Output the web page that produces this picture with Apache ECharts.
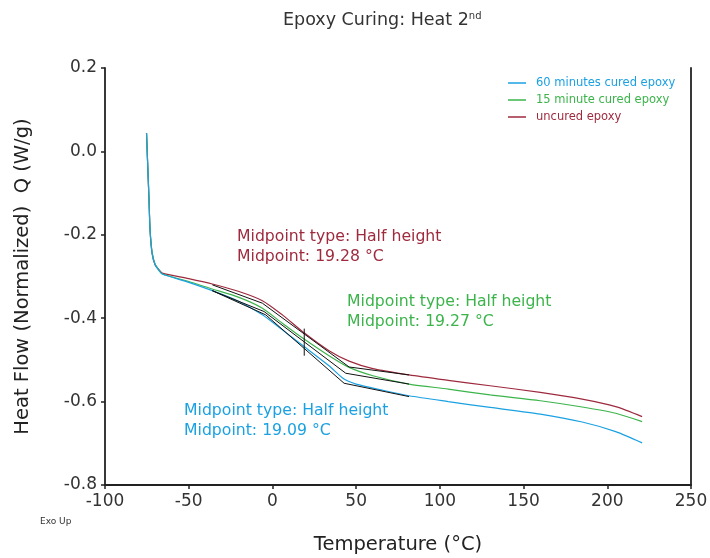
<!DOCTYPE html>
<html>
<head>
<meta charset="utf-8">
<script src="https://cdn.jsdelivr.net/npm/echarts@6/dist/echarts.min.js"></script>
<style>
  html, body { margin: 0; padding: 0; background: #fff; }
  #chart { width: 710px; height: 558px; }
</style>
</head>
<body>
<div id="chart"></div>
<script>
// 曲线数据 (Temperature °C / Heat Flow W/g)
var uncuredT = [-75.2, -74.6, -73.7, -73.1, -71.9, -70.1, -67.7, -65.8, -50, -35.9, -20, -6.0, 5.9, 18.9, 33.8, 45.8, 60, 81.6, 105, 130, 160, 185, 205, 220.8];
var uncuredQ = [0.044, -0.021, -0.117, -0.188, -0.244, -0.272, -0.284, -0.292, -0.305, -0.318, -0.336, -0.358, -0.392, -0.435, -0.478, -0.503, -0.521, -0.536, -0.549, -0.562, -0.578, -0.594, -0.612, -0.636];

var min15T = [-75.2, -74.6, -73.7, -73.1, -71.9, -70.1, -67.7, -65.8, -50, -35.9, -20, -6.0, 5.9, 18.9, 33.8, 45.8, 60, 81.6, 105, 130, 160, 185, 205, 220.8];
var min15Q = [0.044, -0.021, -0.117, -0.185, -0.240, -0.270, -0.285, -0.294, -0.312, -0.330, -0.350, -0.376, -0.412, -0.450, -0.490, -0.518, -0.538, -0.558, -0.570, -0.584, -0.598, -0.613, -0.628, -0.648];

var min60T = [-75.2, -74.6, -73.7, -73.1, -71.9, -70.1, -67.7, -65.8, -50, -35.9, -20, -6.0, 5.9, 18.9, 33.8, 42.8, 50, 65, 81.6, 105, 130, 160, 185, 205, 220.8];
var min60Q = [0.044, -0.021, -0.117, -0.188, -0.244, -0.272, -0.286, -0.294, -0.314, -0.334, -0.360, -0.392, -0.428, -0.468, -0.514, -0.546, -0.558, -0.572, -0.586, -0.600, -0.614, -0.630, -0.649, -0.672, -0.699];

// 切线 (black analysis lines)
var redTanT = [-35.9, -6.0, 45.8, 81.6];
var redTanQ = [-0.320, -0.364, -0.517, -0.536];
var greenTanT = [-35.9, -5.0, 43.8, 81.6];
var greenTanQ = [-0.334, -0.384, -0.532, -0.558];
var blueTanT = [-35.9, -4.0, 42.8, 81.6];
var blueTanQ = [-0.334, -0.392, -0.556, -0.588];
var markT = [19, 19];
var markQ = [-0.425, -0.490];

var names = ['60 minutes cured epoxy', '15 minute cured epoxy', 'uncured epoxy'];
var colors = ['#1ba1e2', '#3cb44b', '#9e2a3e'];

function pairs(xs, ys) {
    return xs.map(function (x, i) { return [x, ys[i]]; });
}

var font = 'DejaVu Sans';
var chart = echarts.init(document.getElementById('chart'));

function curve(name, color, xs, ys) {
    return {
        name: name, type: 'line', data: pairs(xs, ys),
        showSymbol: false, smooth: 0.25,
        lineStyle: { color: color, width: 1.2 }, itemStyle: { color: color },
        z: 2
    };
}
function tangent(xs, ys) {
    return {
        type: 'line', data: pairs(xs, ys), showSymbol: false,
        lineStyle: { color: '#111', width: 1 }, silent: true, z: 3
    };
}

var option = {
    animation: false,
    title: {
        text: '{a|Epoxy Curing: Heat 2}{b|nd}',
        left: 278, top: 6,
        textStyle: {
            rich: {
                a: { fontFamily: font, fontSize: 17.5, fontWeight: 'normal', color: '#333' },
                b: { fontFamily: font, fontSize: 10, fontWeight: 'normal', color: '#333', verticalAlign: 'top', padding: [0, 0, 9, 0] }
            }
        }
    },
    legend: {
        orient: 'vertical', left: 503, top: 72, itemGap: 5,
        itemWidth: 18, itemHeight: 1.5, icon: 'rect',
        textStyle: { fontFamily: font, fontSize: 11.5, padding: [0, 0, 0, 5] },
        data: names.map(function (n, i) { return { name: n, textStyle: { color: colors[i] } }; })
    },
    grid: { left: 105, right: 19, top: 68, bottom: 73, outerBoundsMode: 'none', containLabel: false },
    xAxis: {
        type: 'value', min: -100, max: 250, interval: 50,
        name: 'Temperature (°C)', nameLocation: 'middle', nameGap: 50,
        nameTextStyle: { fontFamily: font, fontSize: 19.5, color: '#222' },
        axisLine: { show: true, onZero: false, lineStyle: { color: '#222', width: 1.8 } },
        axisTick: { show: true, length: 4, lineStyle: { color: '#222', width: 1.5 } },
        axisLabel: { fontFamily: font, fontSize: 17, color: '#333', margin: 8 },
        splitLine: { show: false }
    },
    yAxis: [{
        type: 'value', min: -0.8, max: 0.2, interval: 0.2,
        name: 'Heat Flow (Normalized)  Q (W/g)', nameLocation: 'middle', nameGap: 72,
        nameTextStyle: { fontFamily: font, fontSize: 19.5, color: '#222' },
        axisLine: { show: true, onZero: false, lineStyle: { color: '#222', width: 1.8 } },
        axisTick: { show: true, length: 4, lineStyle: { color: '#222', width: 1.5 } },
        axisLabel: { fontFamily: font, fontSize: 17, color: '#333', margin: 8,
            formatter: function (v) { return v.toFixed(1); } },
        splitLine: { show: false }
    }, {
        type: 'value', min: -0.8, max: 0.2, interval: 0.2, position: 'right',
        axisLine: { show: true, onZero: false, lineStyle: { color: '#222', width: 1.8 } },
        axisTick: { show: false }, axisLabel: { show: false }, splitLine: { show: false }
    }],
    graphic: [
        { type: 'text', left: 237, top: 227, style: { text: 'Midpoint type: Half height\nMidpoint: 19.28 °C', fill: '#9e2a3e', font: '15.7px ' + font, lineHeight: 20 } },
        { type: 'text', left: 347, top: 292, style: { text: 'Midpoint type: Half height\nMidpoint: 19.27 °C', fill: '#3cb44b', font: '15.7px ' + font, lineHeight: 20 } },
        { type: 'text', left: 184, top: 401, style: { text: 'Midpoint type: Half height\nMidpoint: 19.09 °C', fill: '#1ba1e2', font: '15.7px ' + font, lineHeight: 20 } },
        { type: 'text', left: 40, top: 517, style: { text: 'Exo Up', fill: '#333', font: '9px ' + font } }
    ],
    series: [
        curve(names[2], colors[2], uncuredT, uncuredQ),
        curve(names[1], colors[1], min15T, min15Q),
        curve(names[0], colors[0], min60T, min60Q),
        tangent(redTanT, redTanQ),
        tangent(greenTanT, greenTanQ),
        tangent(blueTanT, blueTanQ),
        tangent(markT, markQ)
    ]
};

chart.setOption(option);
</script>
</body>
</html>
